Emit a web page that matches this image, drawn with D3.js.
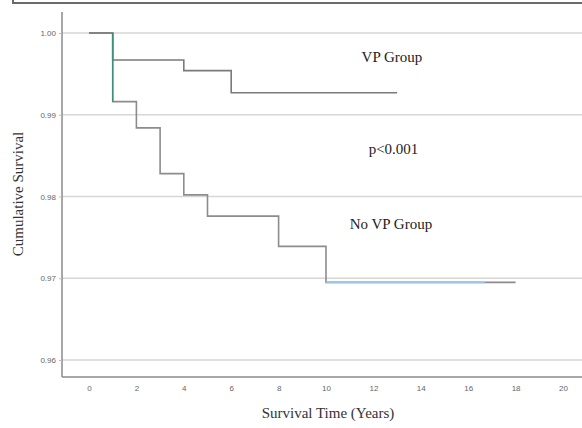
<!DOCTYPE html>
<html><head><meta charset="utf-8">
<script src="https://cdn.jsdelivr.net/npm/d3@7"></script>
<style>body{margin:0;background:#fff}svg{display:block}</style>
</head><body><svg id="c" width="582" height="428"></svg>
<script>
// Data
const xTicks = [0,2,4,6,8,10,12,14,16,18,20];
const yTicks = [0.96,0.97,0.98,0.99,1.00];
const vpTimes = [0,1,4,6,13];
const vpSurv  = [1.000,0.9967,0.9954,0.9927,0.9927];
const noVpTimes = [0,1,2,3,4,5,8,10,18];
const noVpSurv  = [1.000,0.9916,0.9884,0.9828,0.9802,0.9776,0.9739,0.9695,0.9695];
const noVpBlueEnd = 16.7;
const labels = [
  {text:"VP Group", t:11.5, s:0.99645},
  {text:"p<0.001", t:11.8, s:0.9852},
  {text:"No VP Group", t:11.0, s:0.9760}
];

(function(){
const svg = d3.select("#c");
const x = d3.scaleLinear().domain([0,20]).range([89,563]);
const y = d3.scaleLinear().domain([0.96,1.00]).range([360,33]);
const mLeft = 62, mBottom = 377, mRight = 582, mTop = 12;

// title box bottom edge (cut off)
svg.append("rect").attr("x",13).attr("y",-20).attr("width",600).attr("height",23)
  .attr("fill","none").attr("stroke","#6a6a6a").attr("stroke-width",2);

// gridlines
svg.append("g").selectAll("line").data(yTicks).join("line")
  .attr("x1",mLeft).attr("x2",mRight)
  .attr("y1",d=>y(d)).attr("y2",d=>y(d))
  .attr("stroke","#d6d6d6").attr("stroke-width",1.5);

// axes frame
svg.append("line").attr("x1",mLeft).attr("x2",mLeft).attr("y1",mTop).attr("y2",mBottom)
  .attr("stroke","#8a8a8a").attr("stroke-width",1.5);
svg.append("line").attr("x1",mLeft).attr("x2",mRight).attr("y1",mBottom).attr("y2",mBottom)
  .attr("stroke","#8a8a8a").attr("stroke-width",1.5);

// y tick labels
const yAxis = d3.axisLeft(y).tickValues(yTicks).tickFormat(d3.format(".2f")).tickSize(3);
const gy = svg.append("g").attr("transform",`translate(${mLeft},0)`).call(yAxis);
gy.select(".domain").remove();
gy.selectAll("line").attr("stroke","#bbb");
gy.selectAll("text").attr("font-family","Liberation Sans, Arial, sans-serif").attr("font-size",8).attr("fill","#666");

// x tick labels
const xAxis = d3.axisBottom(x).tickValues(xTicks).tickSize(0).tickPadding(8);
const gx = svg.append("g").attr("transform",`translate(0,${mBottom})`).call(xAxis);
gx.select(".domain").remove();
gx.selectAll("text").attr("font-family","Liberation Sans, Arial, sans-serif").attr("font-size",8).attr("fill","#666");

// curves
const line = d3.line().x(d=>x(d[0])).y(d=>y(d[1])).curve(d3.curveStepAfter);
const vp = vpTimes.map((t,i)=>[t,vpSurv[i]]);
const nvp = noVpTimes.map((t,i)=>[t,noVpSurv[i]]);
svg.append("path").attr("d",line(nvp)).attr("fill","none").attr("stroke","#8c8c8c").attr("stroke-width",1.6);
svg.append("path").attr("d",line(vp)).attr("fill","none").attr("stroke","#7a7a7a").attr("stroke-width",1.6);
// blue tail segment of No VP group
const lastI = noVpTimes.length-2;
svg.append("line").attr("x1",x(noVpTimes[lastI])).attr("x2",x(noVpBlueEnd))
  .attr("y1",y(noVpSurv[lastI])).attr("y2",y(noVpSurv[lastI]))
  .attr("stroke","#9cc6e4").attr("stroke-width",1.6);
// teal overlapping drop at first event
svg.append("line").attr("x1",x(noVpTimes[1])).attr("x2",x(noVpTimes[1]))
  .attr("y1",y(noVpSurv[0])).attr("y2",y(noVpSurv[1]))
  .attr("stroke","#3f8f7a").attr("stroke-width",1.4);

// annotations
svg.append("g").selectAll("text").data(labels).join("text")
  .attr("x",d=>x(d.t)).attr("y",d=>y(d.s))
  .attr("font-family","Liberation Serif, Times New Roman, serif").attr("font-size",15)
  .attr("fill","#222").text(d=>d.text);

// axis titles
svg.append("text").attr("x",328).attr("y",418).attr("text-anchor","middle")
  .attr("font-family","Liberation Serif, Times New Roman, serif").attr("font-size",15)
  .attr("fill","#333").text("Survival Time (Years)");
svg.append("text").attr("transform","translate(23,194) rotate(-90)").attr("text-anchor","middle")
  .attr("font-family","Liberation Serif, Times New Roman, serif").attr("font-size",15)
  .attr("fill","#333").text("Cumulative Survival");
})();
</script></body></html>
